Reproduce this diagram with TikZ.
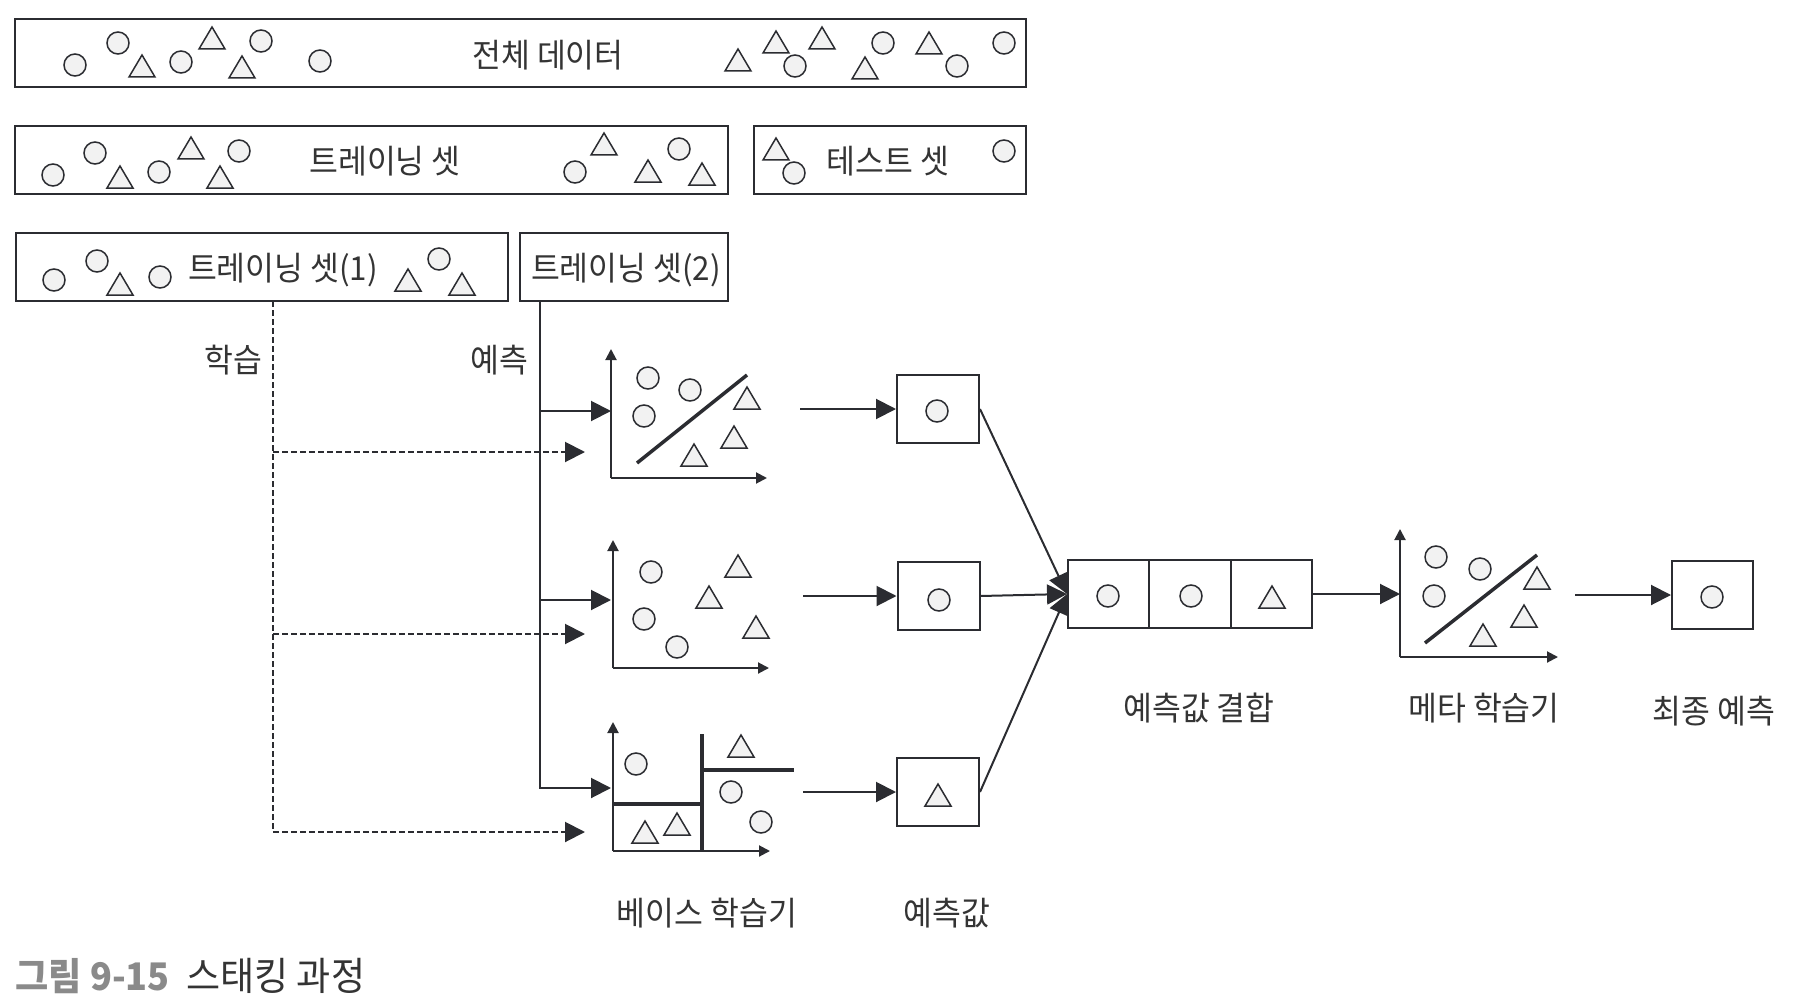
\documentclass[tikz,border=0pt]{standalone}
\usepackage{fontspec}
\setmainfont{Noto Sans CJK KR}[FakeStretch=0.95]
\usetikzlibrary{arrows.meta}
\definecolor{ink}{HTML}{2B2C31}
\definecolor{txt}{HTML}{343434}
\definecolor{shade}{HTML}{F2F2F2}
\definecolor{capgray}{HTML}{8A8A8A}
\begin{document}
\begin{tikzpicture}[x=0.5pt,y=-0.5pt,
 box/.style={draw=ink,line width=1pt,inner sep=0pt,minimum height=34pt},
 lbl/.style={text=txt,font=\fontsize{16.5pt}{19pt}\selectfont,inner sep=0pt},
 shp/.style={draw=ink,fill=shade,line width=0.75pt},
 ci/.pic={\draw[shp] (0,0) circle[radius=5.5pt];},
 tri/.pic={\draw[shp] (-13,11) -- (13,11) -- (0,-11) -- cycle;},
 conn/.style={draw=ink,line width=1pt},
 arr/.style={conn,-{Triangle[length=10pt,width=10pt]}},
 dsh/.style={conn,dash pattern=on 3pt off 1.5pt,-{Triangle[length=10pt,width=10pt]}},
 axis/.style={draw=ink,line width=1pt,-{Triangle[length=5.5pt,width=5.5pt]}},
 cut/.style={draw=ink,line width=1.75pt},
]
\useasboundingbox (0,0) rectangle (1794,1006);

% ---------- data boxes ----------
\node[box,minimum width=505.5pt] (all) at (520.5,53) {};
\node[lbl] (allt) at (548,55) {전체 데이터};
\foreach \p in {(75,65),(118,43),(181,62),(261,41),(320,61),(795,66),(883,43),(957,66),(1004,43)} \pic at \p {ci};
\foreach \p in {(142,66),(212,38),(242,67),(738,60),(776,42),(822,38),(865,68),(929,43)} \pic at \p {tri};

\node[box,minimum width=356.5pt] (train) at (371.5,160) {};
\node[lbl] (traint) at (385,161) {트레이닝 셋};
\foreach \p in {(53,175),(95,153),(159,172),(239,151),(575,172),(679,149)} \pic at \p {ci};
\foreach \p in {(120,177),(191,148),(220,177),(604,144),(648,171),(702,174)} \pic at \p {tri};

\node[box,minimum width=136pt] (test) at (890,160) {};
\node[lbl] (testt) at (888,161) {테스트 셋};
\foreach \p in {(794,173),(1004,151)} \pic at \p {ci};
\pic at (776,149) {tri};

\node[box,minimum width=246pt] (ta) at (262,267) {};
\node[lbl] (tat) at (283,270) {트레이닝 셋(1)};
\foreach \p in {(54,280),(97,261),(160,277),(439,259)} \pic at \p {ci};
\foreach \p in {(120,284),(408,280),(462,284)} \pic at \p {tri};

\node[box,minimum width=104pt] (tb) at (624,267) {};
\node[lbl] (tbt) at (626,270) {트레이닝 셋(2)};

% ---------- learn / predict lines ----------
\coordinate (ls) at (273,301);
\coordinate (ps) at (540,301);
\node[lbl,anchor=east] (learn) at (263,360) {학습};
\node[lbl,anchor=east] (pred) at (529,360) {예측};

\coordinate (in1) at (611,411);
\coordinate (in2) at (611,600);
\coordinate (in3) at (611,788);
\coordinate (dn1) at (585,452);
\coordinate (dn2) at (585,634);
\coordinate (dn3) at (585,832);

\draw[arr] (ps) |- (in3);
\draw[arr] (ps |- in1) -- (in1);
\draw[arr] (ps |- in2) -- (in2);
\draw[dsh] (ls) |- (dn3);
\draw[dsh] (ls |- dn1) -- (dn1);
\draw[dsh] (ls |- dn2) -- (dn2);

% ---------- base learner 1 ----------
\coordinate (o1) at (611,478);
\draw[axis] (o1) -- ++(0,-129);
\draw[axis] (o1) -- ++(156,0);
\foreach \p in {(648,378),(690,390),(644,416)} \pic at \p {ci};
\foreach \p in {(747,398),(734,437),(694,455)} \pic at \p {tri};
\draw[cut] (637,463) -- (747,375);

% ---------- base learner 2 ----------
\coordinate (o2) at (613,668);
\draw[axis] (o2) -- ++(0,-128);
\draw[axis] (o2) -- ++(156,0);
\foreach \p in {(651,572),(644,619),(677,647)} \pic at \p {ci};
\foreach \p in {(738,566),(709,597),(756,627)} \pic at \p {tri};

% ---------- base learner 3 ----------
\coordinate (o3) at (613,851);
\draw[axis] (o3) -- ++(0,-129);
\draw[axis] (o3) -- ++(157,0);
\draw[cut] (702,734) -- (702,852);
\draw[cut] (613,804) -- (702,804);
\draw[cut] (704,770) -- (794,770);
\foreach \p in {(636,764),(731,792),(761,822)} \pic at \p {ci};
\foreach \p in {(741,746),(645,832),(677,824)} \pic at \p {tri};

% ---------- predictions ----------
\node[box,minimum width=41pt] (p1) at (938,409) {};
\node[box,minimum width=41pt] (p2) at (938.5,596) {};
\node[box,minimum width=41pt] (p3) at (938,792) {};
\pic at (937,411) {ci};
\pic at (939,600) {ci};
\pic at (938,795) {tri};
\coordinate (a1) at (800,409);
\coordinate (a2) at (803,596);
\coordinate (a3) at (803,792);
\draw[arr] (a1) -- (p1.west);
\draw[arr] (a2) -- (p2.west);
\draw[arr] (a3) -- (p3.west);

% ---------- combined ----------
\node[box,minimum width=40.67pt] (c1) at (1108.7,594) {};
\node[box,minimum width=40.67pt] (c2) at (1190,594) {};
\node[box,minimum width=40.67pt] (c3) at (1271.3,594) {};
\pic at (1108,596) {ci};
\pic at (1191,596) {ci};
\pic at (1272,597) {tri};
\draw[arr] (p1.east) -- (c1.west);
\draw[arr] (p2.east) -- (c1.west);
\draw[arr] (p3.east) -- (c1.west);

% ---------- meta learner ----------
\coordinate (om) at (1400,657);
\coordinate (mi) at (1400,594);
\draw[arr] (c3.east) -- (mi);
\draw[axis] (om) -- ++(0,-128);
\draw[axis] (om) -- ++(158,0);
\foreach \p in {(1436,557),(1480,569),(1434,596)} \pic at \p {ci};
\foreach \p in {(1537,578),(1524,616),(1483,635)} \pic at \p {tri};
\draw[cut] (1425,643) -- (1537,555);

% ---------- final ----------
\node[box,minimum width=40.5pt] (fin) at (1712.5,595) {};
\pic at (1712,597) {ci};
\coordinate (mf) at (1575,595);
\draw[arr] (mf) -- (fin.west);

% ---------- labels ----------
\node[lbl] (lbase) at (707,913) {베이스 학습기};
\node[lbl] (lpred) at (947,913) {예측값};
\node[lbl] (lcomb) at (1199,708) {예측값 결합};
\node[lbl] (lmeta) at (1484,708) {메타 학습기};
\node[lbl] (lfin) at (1714,711) {최종 예측};

% ---------- caption ----------
\node[anchor=west,inner sep=0pt,text=capgray,font=\fontsize{19pt}{22pt}\selectfont\bfseries] (capa) at (15,976) {그림 9-15};
\node[anchor=west,inner sep=0pt,text=txt,font=\fontsize{19.5pt}{22pt}\selectfont] (capb) at (186,976) {스태킹 과정};
\end{tikzpicture}
\end{document}
